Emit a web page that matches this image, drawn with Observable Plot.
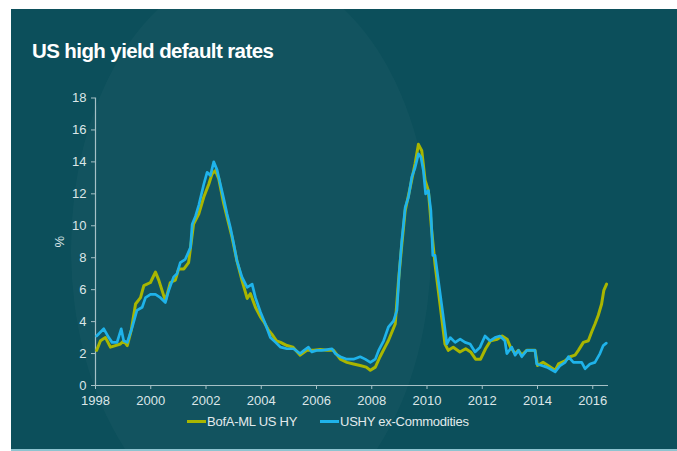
<!DOCTYPE html>
<html>
<head>
<meta charset="utf-8">
<script src="https://cdn.jsdelivr.net/npm/d3@7"></script>
<script src="https://cdn.jsdelivr.net/npm/@observablehq/plot@0.6"></script>
<style>
  html, body { margin: 0; padding: 0; background: #ffffff; }
  body { width: 677px; height: 451px; position: relative; overflow: hidden; font-family: "Liberation Sans", Arial, sans-serif; }
  #panel { position: absolute; left: 11px; top: 9px; width: 666px; height: 440px; background: #0c4f5b; overflow: hidden; }
  #strip { position: absolute; left: 11px; top: 449px; width: 666px; height: 2px; background: #8ec4d0; }
  .blob { position: absolute; border-radius: 50%; background: rgba(255,255,255,0.028); }
  #title { position: absolute; left: 32px; top: 39px; color: #ffffff; font-weight: bold; font-size: 20.5px; letter-spacing: -0.6px; }
  #chart { position: absolute; left: 0; top: 85px; }
  #legend { position: absolute; left: 0; top: 414px; width: 677px; font-size: 13px; color: #e2eaec; letter-spacing: -0.25px; }
  .item { position: absolute; top: 0; white-space: nowrap; }
  .sw { display: inline-block; width: 19px; height: 3px; vertical-align: middle; margin-right: 1px; position: relative; top: -1px; }
</style>
</head>
<body>
<div id="panel">
  <div class="blob" style="left:60px; top:-40px; width:360px; height:560px;"></div>
</div>
<div id="strip"></div>
<div id="title">US high yield default rates</div>
<div id="chart"></div>
<div id="legend"></div>
<script>
// BofA-ML US HY default rate (%)
const bofaYear = [1998.04,1998.18,1998.36,1998.54,1998.72,1998.9,1999.02,1999.15,1999.3,1999.45,1999.63,1999.75,1999.99,2000.17,2000.29,2000.53,2000.71,2000.89,2001.01,2001.2,2001.37,2001.55,2001.74,2001.92,2002.1,2002.22,2002.34,2002.46,2002.64,2002.76,2002.94,2003.12,2003.3,2003.49,2003.61,2003.79,2003.97,2004.09,2004.25,2004.39,2004.55,2004.7,2004.93,2005.15,2005.41,2005.65,2005.9,2006.14,2006.38,2006.62,2006.86,2007.1,2007.34,2007.58,2007.8,2007.95,2008.13,2008.3,2008.48,2008.6,2008.85,2008.97,2009.09,2009.21,2009.39,2009.57,2009.69,2009.81,2009.93,2010.05,2010.17,2010.29,2010.47,2010.65,2010.77,2010.95,2011.19,2011.4,2011.58,2011.76,2011.94,2012.12,2012.3,2012.54,2012.72,2012.9,2013.02,2013.19,2013.31,2013.43,2013.61,2013.79,2013.91,2014.0,2014.2,2014.38,2014.64,2014.76,2015.0,2015.18,2015.36,2015.48,2015.66,2015.84,2015.96,2016.08,2016.2,2016.32,2016.4,2016.5];
const bofaRate = [2.2,2.8,3.0,2.4,2.5,2.6,2.8,2.5,3.5,5.1,5.5,6.25,6.45,7.1,6.6,5.3,6.45,6.6,7.3,7.3,7.7,10.1,10.75,11.8,12.6,13.25,13.45,12.95,11.4,10.55,9.3,7.8,6.6,5.45,5.75,4.9,4.3,4.0,3.5,3.2,2.8,2.7,2.5,2.4,1.9,2.2,2.2,2.25,2.2,2.2,1.65,1.45,1.35,1.25,1.15,0.95,1.15,1.8,2.4,2.8,3.85,6.6,8.85,10.95,12.4,13.9,15.1,14.7,12.85,12.2,9.7,7.6,5.1,2.6,2.2,2.4,2.1,2.3,2.1,1.65,1.65,2.3,2.8,2.9,3.1,2.9,2.4,2.0,2.2,1.9,2.2,2.2,2.2,1.25,1.45,1.25,0.95,1.35,1.55,1.8,1.9,2.2,2.7,2.8,3.35,3.85,4.4,5.1,5.95,6.35];

// USHY ex-Commodities default rate (%)
const ushyYear = [1998.04,1998.3,1998.48,1998.6,1998.78,1998.93,1999.02,1999.15,1999.33,1999.5,1999.69,1999.81,1999.99,2000.17,2000.35,2000.53,2000.65,2000.83,2000.95,2001.07,2001.25,2001.44,2001.5,2001.62,2001.74,2001.92,2002.04,2002.16,2002.28,2002.4,2002.52,2002.64,2002.76,2002.88,2003.0,2003.12,2003.3,2003.49,2003.67,2003.79,2003.97,2004.15,2004.33,2004.52,2004.7,2004.93,2005.17,2005.41,2005.55,2005.71,2005.83,2006.0,2006.19,2006.38,2006.56,2006.68,2006.86,2007.1,2007.34,2007.58,2007.76,2007.95,2008.13,2008.25,2008.43,2008.6,2008.79,2008.91,2009.0,2009.09,2009.21,2009.33,2009.45,2009.57,2009.69,2009.78,2009.87,2009.95,2010.05,2010.14,2010.21,2010.29,2010.41,2010.59,2010.72,2010.84,2011.02,2011.2,2011.38,2011.56,2011.74,2011.92,2012.1,2012.28,2012.46,2012.64,2012.82,2012.89,2013.07,2013.19,2013.31,2013.43,2013.61,2013.79,2013.91,2013.97,2014.15,2014.33,2014.45,2014.64,2014.82,2015.0,2015.12,2015.3,2015.48,2015.6,2015.72,2015.9,2016.08,2016.26,2016.38,2016.49];
const ushyRate = [3.1,3.55,3.0,2.7,2.7,3.55,2.8,2.7,3.65,4.7,4.9,5.5,5.7,5.7,5.5,5.2,5.95,6.8,7.0,7.7,7.9,8.65,10.1,10.6,11.3,12.6,13.35,13.15,14.0,13.5,12.6,11.7,10.75,9.9,8.9,7.8,6.8,6.15,6.35,5.5,4.6,3.85,3.0,2.7,2.4,2.3,2.3,2.0,2.2,2.4,2.1,2.2,2.2,2.25,2.3,2.0,1.8,1.65,1.65,1.8,1.65,1.45,1.65,2.2,2.8,3.65,4.05,4.7,7.2,9.1,11.15,11.8,13.05,13.65,14.5,14.3,13.45,12.0,12.2,10.95,8.15,8.15,6.6,4.3,2.6,3.0,2.7,2.9,2.7,2.6,2.1,2.4,3.1,2.8,3.0,3.1,2.8,2.0,2.4,1.9,2.2,1.8,2.2,2.2,2.2,1.35,1.25,1.15,1.05,0.85,1.25,1.45,1.8,1.45,1.45,1.45,1.05,1.35,1.45,2.0,2.5,2.65];

const xTicks = [1998,2000,2002,2004,2006,2008,2010,2012,2014,2016];
const yTicks = [0,2,4,6,8,10,12,14,16,18];
const seriesNames = ["BofA-ML US HY", "USHY ex-Commodities"];
const seriesColors = ["#a9b600", "#1fb3ea"];

const bofa = bofaYear.map((x, i) => ({x, y: bofaRate[i]}));
const ushy = ushyYear.map((x, i) => ({x, y: ushyRate[i]}));

const axisColor = "#a6c1c6";
const textColor = "#dce6e8";

const chart = Plot.plot({
  width: 677,
  height: 320,
  marginLeft: 95,
  marginRight: 69,
  marginTop: 12.5,
  marginBottom: 20,
  x: {domain: [1998, 2016.57]},
  y: {domain: [0, 18]},
  style: {background: "transparent", fontFamily: "Liberation Sans, Arial, sans-serif", fontSize: "13px", color: textColor, overflow: "visible"},
  marks: [
    Plot.ruleX([1998], {stroke: axisColor, strokeWidth: 1.2}),
    Plot.ruleY([0], {stroke: axisColor, strokeWidth: 1.2}),
    Plot.axisY(yTicks, {tickSize: 4, tickPadding: 5, stroke: axisColor, fill: textColor, label: "%", labelAnchor: "center", labelArrow: "none", labelOffset: 41}),
    Plot.axisX(xTicks, {tickSize: 4, tickPadding: 6, stroke: axisColor, fill: textColor, tickFormat: d => String(d), label: null}),
    Plot.line(bofa, {x: "x", y: "y", stroke: seriesColors[0], strokeWidth: 3, strokeLinejoin: "round"}),
    Plot.line(ushy, {x: "x", y: "y", stroke: seriesColors[1], strokeWidth: 2.7, strokeLinejoin: "round"})
  ]
});
document.getElementById("chart").appendChild(chart);

// legend
const legend = document.getElementById("legend");
const legendX = [187, 320];
seriesNames.forEach((name, i) => {
  const it = document.createElement("div");
  it.className = "item";
  it.style.left = legendX[i] + "px";
  it.innerHTML = `<span class="sw" style="background:${seriesColors[i]}"></span>${name}`;
  legend.appendChild(it);
});
</script>
</body>
</html>
